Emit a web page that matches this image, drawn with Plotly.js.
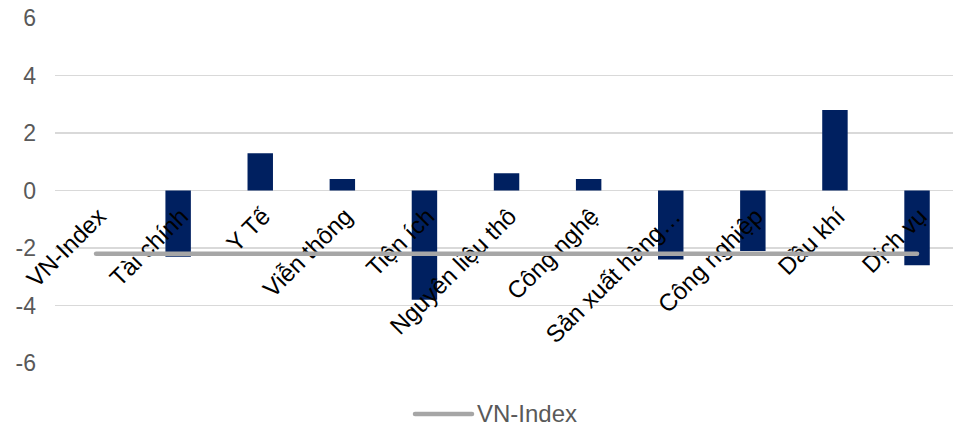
<!DOCTYPE html>
<html>
<head>
<meta charset="utf-8">
<script src="https://cdn.plot.ly/plotly-3.0.1.min.js"></script>
<style>
  html, body { margin: 0; padding: 0; background: #fff; }
  #chart { width: 953px; height: 426px; }
  .scatterlayer .js-line { stroke-linecap: round; }
  .shapelayer path { stroke-linecap: round; }
</style>
</head>
<body>
<div id="chart"></div>
<script>
// ---- data ----
const categories = ["VN-Index", "Tài chính", "Y Tế", "Viễn thông", "Tiện ích", "Nguyên liệu thô",
                    "Công nghệ", "Sản xuất hàng…", "Công nghiệp", "Dầu khí", "Dịch vụ"];
const sectorChange = [null, -2.3, 1.3, 0.4, -3.8, 0.6, 0.4, -2.4, -2.1, 2.8, -2.6];
const vnIndexChange = [-2.2, -2.2, -2.2, -2.2, -2.2, -2.2, -2.2, -2.2, -2.2, -2.2, -2.2];
const lineSeriesName = "VN-Index";
const yTickValues = [-6, -4, -2, 0, 2, 4, 6];

const FONT = '"Liberation Sans", Arial, sans-serif';
const idx = categories.map((_, i) => i);
const X_RANGE = [-0.5, 10.438];
const Y_RANGE = [-6, 6];

const barTrace = {
  type: 'bar',
  x: idx,
  y: sectorChange,
  xaxis: 'x', yaxis: 'y',
  marker: { color: '#002060' },
  showlegend: false,
  hoverinfo: 'skip'
};

// drawn in a second subplot on the same area so it sits above the category labels
const lineTrace = {
  type: 'scatter',
  mode: 'lines',
  name: lineSeriesName,
  x: idx,
  y: vnIndexChange,
  xaxis: 'x2', yaxis: 'y2',
  line: { color: '#A6A6A6', width: 4.5 },
  showlegend: false,
  hoverinfo: 'skip'
};

const legendAnnotation = {
  x: 0.4677, y: -0.1478, xref: 'paper', yref: 'paper',
  text: lineSeriesName, showarrow: false,
  xanchor: 'left', yanchor: 'middle',
  font: { family: FONT, size: 24, color: '#595959' }
};

const layout = {
  width: 953, height: 426,
  margin: { l: 55, r: 0, t: 18, b: 63 },
  paper_bgcolor: '#ffffff',
  plot_bgcolor: 'rgba(0,0,0,0)',
  bargap: 0.69,
  showlegend: false,
  xaxis: {
    range: X_RANGE,
    anchor: 'free',
    position: 0.5,
    tickvals: idx,
    ticktext: categories,
    tickangle: -45,
    tickfont: { family: FONT, size: 24, color: '#000000' },
    layer: 'above traces',
    showgrid: false,
    zeroline: false,
    showline: false,
    ticks: '',
    ticklabelstandoff: 6,
    ticklabelshift: 3,
    automargin: false
  },
  yaxis: {
    range: Y_RANGE,
    tickvals: yTickValues,
    ticktext: yTickValues.map(String),
    tickfont: { family: FONT, size: 23, color: '#595959' },
    showgrid: true,
    gridcolor: '#D9D9D9',
    gridwidth: 1.5,
    zeroline: true,
    zerolinecolor: '#D9D9D9',
    zerolinewidth: 1.5,
    showline: false,
    ticks: '',
    ticklabelstandoff: 18,
    layer: 'below traces'
  },
  xaxis2: { range: X_RANGE, anchor: 'y2', visible: false, showgrid: false, zeroline: false },
  yaxis2: { range: Y_RANGE, anchor: 'x2', visible: false, showgrid: false, zeroline: false },
  annotations: [legendAnnotation],
  shapes: [{
    type: 'line', xref: 'paper', yref: 'paper',
    x0: 0.4009, x1: 0.4644, y0: -0.1478, y1: -0.1478,
    line: { color: '#A6A6A6', width: 4.5 }
  }]
};

Plotly.newPlot('chart', [barTrace, lineTrace], layout, { staticPlot: true, displayModeBar: false });
</script>
</body>
</html>
